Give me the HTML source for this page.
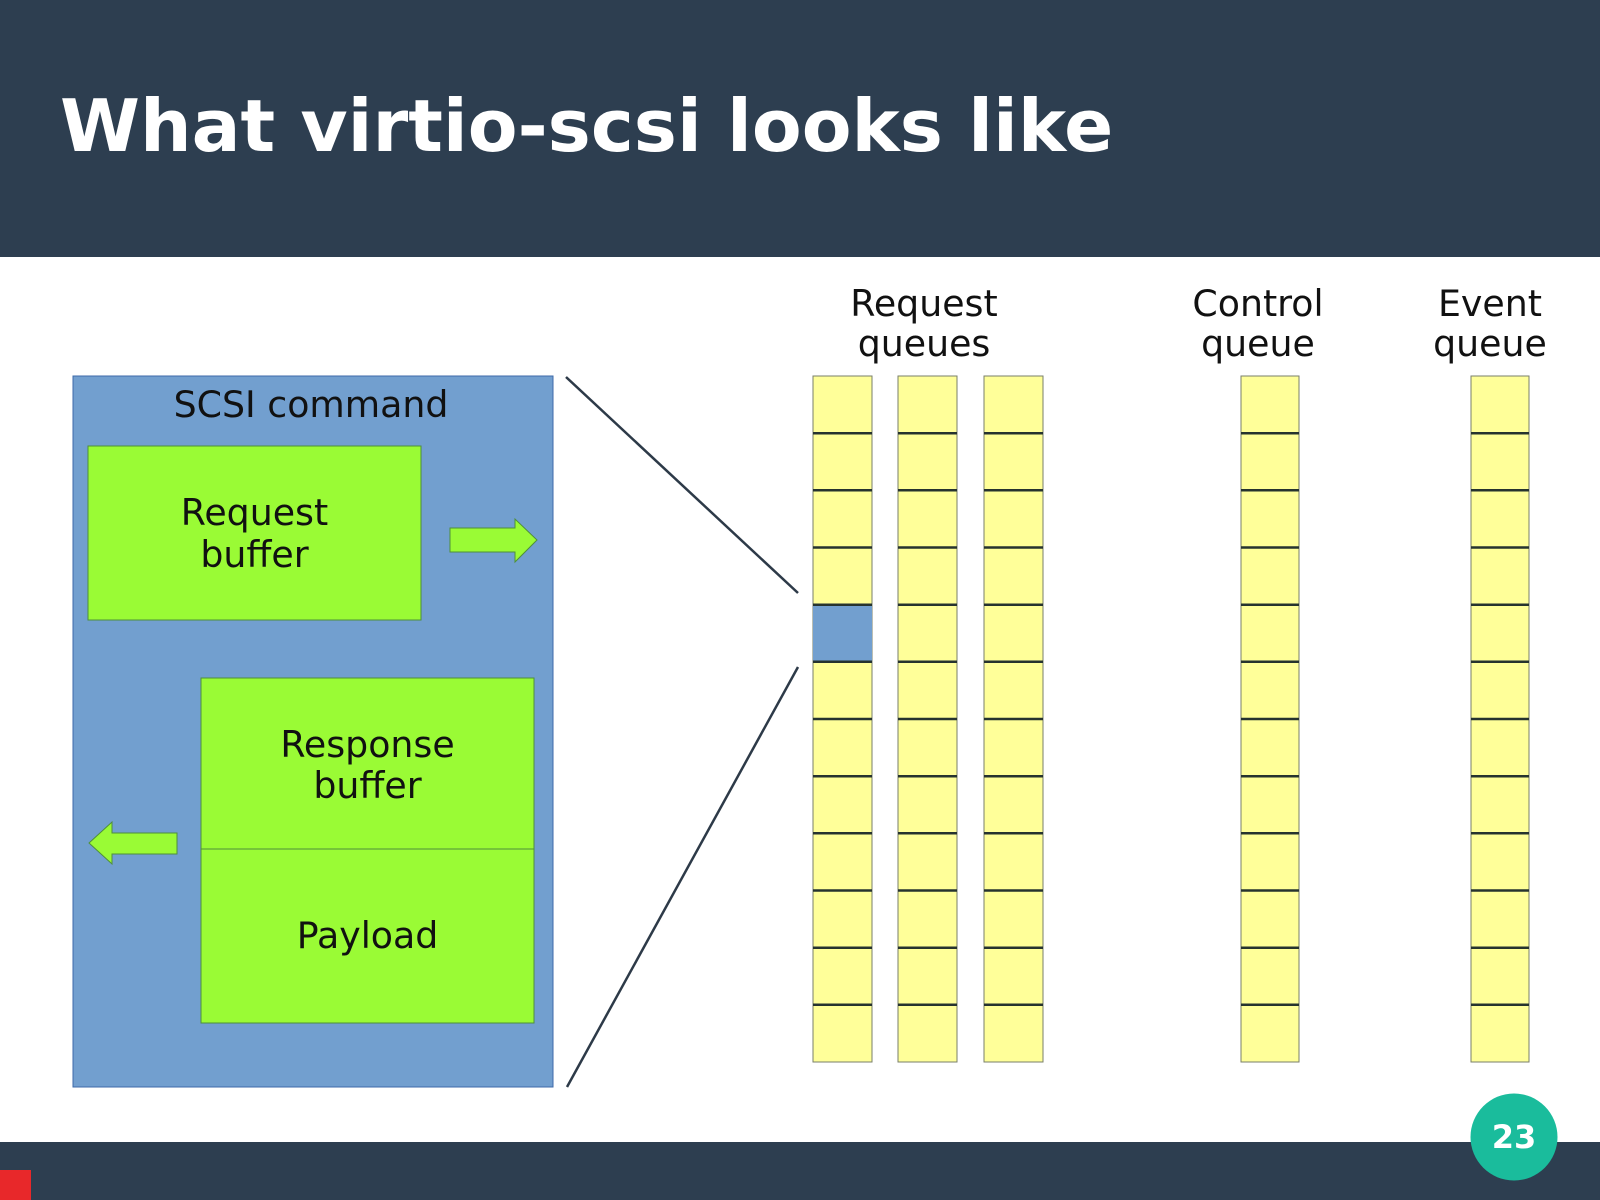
<!DOCTYPE html>
<html><head><meta charset="utf-8"><style>
html,body{margin:0;padding:0;background:#fff;}
body{width:1600px;height:1200px;overflow:hidden;}
svg{display:block;}
</style></head><body>
<svg width="1600" height="1200" viewBox="0 0 1600 1200" xmlns="http://www.w3.org/2000/svg">
<rect x="0" y="0" width="1600" height="1200" fill="#ffffff"/>
<rect x="0" y="0" width="1600" height="257" fill="#2d3e50"/>
<text x="60" y="151" font-family="'DejaVu Sans','Liberation Sans',sans-serif" font-weight="bold" font-size="72.5" fill="#ffffff">What virtio-scsi looks like</text>

<rect x="0" y="1142" width="1600" height="58" fill="#2d3e50"/>
<rect x="0" y="1170" width="31" height="30" fill="#e8282a"/>
<circle cx="1514" cy="1137" r="43.5" fill="#1abc9c"/>
<text x="1514" y="1148" text-anchor="middle" font-family="'DejaVu Sans','Liberation Sans',sans-serif" font-weight="bold" font-size="32" fill="#ffffff">23</text>

<!-- SCSI command box -->
<rect x="73" y="376" width="480" height="711" fill="#729fcf" stroke="#3d6aa8" stroke-width="1"/>
<text x="311" y="417" text-anchor="middle" font-family="'DejaVu Sans','Liberation Sans',sans-serif" font-size="36.3" fill="#111">SCSI command</text>

<rect x="88" y="446" width="333" height="174" fill="#9afb35" stroke="#4f8f3a" stroke-width="1"/>
<text x="254.5" y="525" text-anchor="middle" font-family="'DejaVu Sans','Liberation Sans',sans-serif" font-size="36.3" fill="#111">Request</text>
<text x="254.5" y="567" text-anchor="middle" font-family="'DejaVu Sans','Liberation Sans',sans-serif" font-size="36.3" fill="#111">buffer</text>

<polygon points="450,528 515,528 515,519 537,540 515,562 515,552 450,552" fill="#9afb35" stroke="#4f8f3a" stroke-width="1"/>

<rect x="201" y="678" width="333" height="171" fill="#9afb35" stroke="#4f8f3a" stroke-width="1"/>
<rect x="201" y="849" width="333" height="174" fill="#9afb35" stroke="#4f8f3a" stroke-width="1"/>
<text x="367.5" y="757" text-anchor="middle" font-family="'DejaVu Sans','Liberation Sans',sans-serif" font-size="36.3" fill="#111">Response</text>
<text x="367.5" y="798" text-anchor="middle" font-family="'DejaVu Sans','Liberation Sans',sans-serif" font-size="36.3" fill="#111">buffer</text>
<text x="367.5" y="948" text-anchor="middle" font-family="'DejaVu Sans','Liberation Sans',sans-serif" font-size="36.3" fill="#111">Payload</text>

<polygon points="177,833 112,833 112,822 89,843 112,864 112,854 177,854" fill="#9afb35" stroke="#4f8f3a" stroke-width="1"/>

<!-- connector lines -->
<line x1="566" y1="377" x2="798" y2="593" stroke="#2d3a48" stroke-width="2.5"/>
<line x1="798" y1="667" x2="567" y2="1087" stroke="#2d3a48" stroke-width="2.5"/>

<!-- labels -->
<g font-family="'DejaVu Sans','Liberation Sans',sans-serif" font-size="36.3" fill="#111" text-anchor="middle">
<text x="924" y="316">Request</text>
<text x="924" y="356">queues</text>
<text x="1258" y="316">Control</text>
<text x="1258" y="356">queue</text>
<text x="1490" y="316">Event</text>
<text x="1490" y="356">queue</text>
</g>

<!-- queue columns -->
<g id="cols">
<rect x="813" y="376" width="59" height="686" fill="#ffff99" stroke="#7a7f6a" stroke-width="1"/>
<rect x="813" y="606" width="59" height="57" fill="#729fcf"/>
<rect x="898" y="376" width="59" height="686" fill="#ffff99" stroke="#7a7f6a" stroke-width="1"/>
<rect x="984" y="376" width="59" height="686" fill="#ffff99" stroke="#7a7f6a" stroke-width="1"/>
<rect x="1241" y="376" width="58" height="686" fill="#ffff99" stroke="#7a7f6a" stroke-width="1"/>
<rect x="1471" y="376" width="58" height="686" fill="#ffff99" stroke="#7a7f6a" stroke-width="1"/>
</g>
<g stroke="#26332f" stroke-width="2.5">
<path d="M813 433.2H872M813 490.3H872M813 547.5H872M813 604.7H872M813 661.8H872M813 719H872M813 776.2H872M813 833.3H872M813 890.5H872M813 947.7H872M813 1004.8H872"/>
<path d="M898 433.2H957M898 490.3H957M898 547.5H957M898 604.7H957M898 661.8H957M898 719H957M898 776.2H957M898 833.3H957M898 890.5H957M898 947.7H957M898 1004.8H957"/>
<path d="M984 433.2H1043M984 490.3H1043M984 547.5H1043M984 604.7H1043M984 661.8H1043M984 719H1043M984 776.2H1043M984 833.3H1043M984 890.5H1043M984 947.7H1043M984 1004.8H1043"/>
<path d="M1241 433.2H1299M1241 490.3H1299M1241 547.5H1299M1241 604.7H1299M1241 661.8H1299M1241 719H1299M1241 776.2H1299M1241 833.3H1299M1241 890.5H1299M1241 947.7H1299M1241 1004.8H1299"/>
<path d="M1471 433.2H1529M1471 490.3H1529M1471 547.5H1529M1471 604.7H1529M1471 661.8H1529M1471 719H1529M1471 776.2H1529M1471 833.3H1529M1471 890.5H1529M1471 947.7H1529M1471 1004.8H1529"/>
</g>
</svg>
</body></html>
